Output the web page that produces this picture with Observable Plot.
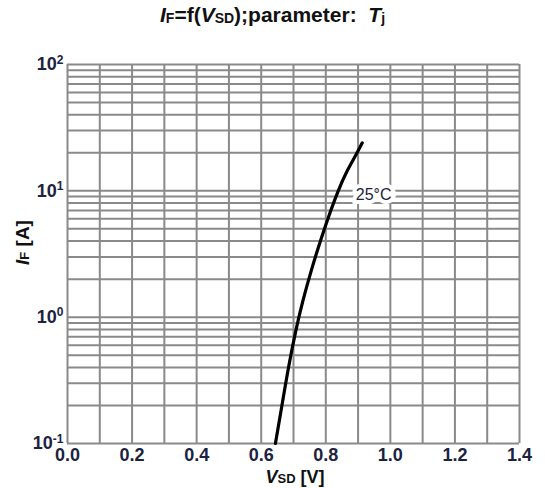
<!DOCTYPE html>
<html>
<head>
<meta charset="utf-8">
<script src="https://cdn.jsdelivr.net/npm/d3@7"></script>
<script src="https://cdn.jsdelivr.net/npm/@observablehq/plot@0.6"></script>
<style>
  body { margin: 0; background: #fff; font-family: "Liberation Sans", Arial, sans-serif; }
  #title { height: 40px; line-height: 30px; font-weight: bold; font-size: 21px; color: #111; text-align: center; width: 545px; }
  #title sub { font-size: 14px; vertical-align: 0px; position: relative; top: 1px; }
  svg text { font-family: "Liberation Sans", Arial, sans-serif; }
</style>
</head>
<body>
<div id="title"><i>I</i><sub>F</sub>=f(<i>V</i><sub>SD</sub>);parameter:&nbsp; <i>T</i><sub>j</sub></div>
<div id="chart"></div>
<script>
// Data (VSD in V, IF in A) at Tj = 25 °C
const vsd = [0.644, 0.667, 0.684, 0.707, 0.729, 0.755, 0.784, 0.805, 0.839, 0.867, 0.894, 0.913];
const iF  = [0.10, 0.22, 0.40, 0.79, 1.36, 2.36, 4.08, 5.89, 10.2, 14.7, 19.3, 24.0];
const seriesLabel = "25°C";
const labelPos = {v: 0.893, i: 9.3};

// Axis ticks / grid
const xTicks = [0.0, 0.1, 0.2, 0.3, 0.4, 0.5, 0.6, 0.7, 0.8, 0.9, 1.0, 1.1, 1.2, 1.3, 1.4];
const xTickLabels = [0.0, 0.2, 0.4, 0.6, 0.8, 1.0, 1.2, 1.4];
const yMajor = [0.1, 1, 10, 100];
const yMajorExp = ["-1", "0", "1", "2"];
const yGrid = [0.1, 0.2, 0.3, 0.4, 0.5, 0.6, 0.7, 0.8, 0.9,
               1, 2, 3, 4, 5, 6, 7, 8, 9,
               10, 20, 30, 40, 50, 60, 70, 80, 90, 100];

const curve = vsd.map((v, k) => ({v, i: iF[k]}));
const gridColor = "#8a8a8a";
const labelColor = "#1c2340";

const plot = Plot.plot({
  width: 545,
  height: 448,
  marginLeft: 67,
  marginRight: 26,
  marginTop: 24,
  marginBottom: 45,
  style: {fontFamily: "Liberation Sans, Arial, sans-serif", color: labelColor, background: "#fff"},
  x: {domain: [0, 1.4]},
  y: {type: "log", domain: [0.1, 100]},
  marks: [
    Plot.ruleY(yGrid, {y: d => d, stroke: gridColor, strokeWidth: 2}),
    Plot.ruleX(xTicks, {x: d => d, stroke: gridColor, strokeWidth: 2}),
    Plot.line(curve, {x: "v", y: "i", stroke: "#000", strokeWidth: 3.2, curve: "basis"}),
    Plot.text([labelPos], {x: "v", y: "i", text: () => seriesLabel, textAnchor: "start", fontSize: 16, fill: labelColor, stroke: "#fff", strokeWidth: 8, strokeLinejoin: "miter"}),
    Plot.axisX(xTickLabels, {tickSize: 0, tickPadding: 5, fontSize: 18, fontWeight: "bold", tickFormat: d => d.toFixed(1), label: null}),
    Plot.axisY(yMajor, {tickSize: 0, tickPadding: 4, fontSize: 18, fontWeight: "bold", tickFormat: d => "10^" + yMajorExp[yMajor.indexOf(d)], label: null})
  ]
});

document.getElementById("chart").appendChild(plot);

const svg = d3.select(plot);

// Turn "10^n" tick labels into 10 with a superscript exponent
svg.selectAll("text").each(function() {
  const t = d3.select(this);
  const s = this.textContent;
  if (/^10\^/.test(s) && this.children.length === 0) {
    const e = s.slice(3);
    t.text("");
    t.append("tspan").text("10");
    t.append("tspan").attr("font-size", 12).attr("dy", "-0.55em").text(e);
  }
});

// Axis titles with italic variable and subscript
const xs = plot.scale("x"), ys = plot.scale("y");
const xMid = (xs.range[0] + xs.range[1]) / 2;
const yMid = (ys.range[0] + ys.range[1]) / 2;

const xl = svg.append("text")
  .attr("x", xMid + 2).attr("y", 443)
  .attr("text-anchor", "middle")
  .attr("font-size", 18).attr("font-weight", "bold").attr("fill", "#111");
xl.append("tspan").attr("font-style", "italic").text("V");
xl.append("tspan").attr("font-size", 13).text("SD");
xl.append("tspan").text(" [V]");

const yl = svg.append("text")
  .attr("transform", `translate(29,${yMid - 11}) rotate(-90)`)
  .attr("text-anchor", "middle")
  .attr("font-size", 19).attr("font-weight", "bold").attr("fill", "#111");
yl.append("tspan").attr("font-style", "italic").text("I");
yl.append("tspan").attr("font-size", 13).text("F");
yl.append("tspan").text(" [A]");
</script>
</body>
</html>
